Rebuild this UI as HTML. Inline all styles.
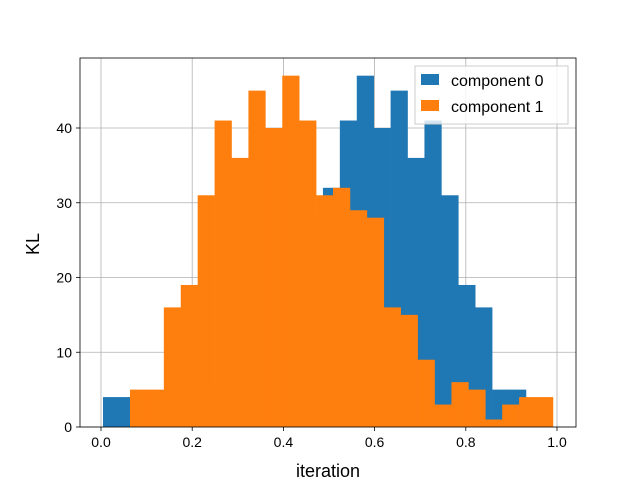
<!DOCTYPE html>
<html><head><meta charset="utf-8"><style>
body{margin:0;background:#fff;}
svg{display:block;font-family:"Liberation Sans","DejaVu Sans",sans-serif;}
</style></head><body>
<svg id="chart" width="640" height="480">
<rect width="640" height="480" fill="#fff"/>
<g id="grid"></g>
<g id="bars"></g>
<g id="axes"></g>
<g id="legend">
<rect x="415" y="66" width="153" height="58" fill="#fff" fill-opacity="0.8" stroke="#ccc"/>
<rect x="421" y="74" width="18" height="11" fill="#1f77b4"/>
<text x="451" y="86" font-size="16" fill="#000">component 0</text>
<rect x="421" y="100" width="18" height="11" fill="#ff7f0e"/>
<text x="451" y="112" font-size="16" fill="#000">component 1</text>
</g>
<text x="328" y="477" font-size="18" text-anchor="middle">iteration</text>
<text transform="translate(39,244) rotate(-90)" font-size="18" text-anchor="middle">KL</text>
</svg>
<script>
const blueStart = 0.0044;
const orangeStart = 0.0636;
const binWidth = 0.0371;
const blueCounts = [4,4,3,1,2,3,5,6,10,13,18,22,28,32,41,47,40,45,36,41,31,19,16,5,5];
const orangeCounts = [5,5,16,19,31,41,36,45,40,47,41,31,32,29,28,16,15,9,3,6,5,1,3,4,4];
const xTicks = [0,0.2,0.4,0.6,0.8,1.0];
const xTickLabels = ["0.0","0.2","0.4","0.6","0.8","1.0"];
const yTicks = [0,10,20,30,40];
const yTickLabels = ["0","10","20","30","40"];

const NS = "http://www.w3.org/2000/svg";
const L=80,R=576,T=58,B=427;
function xs(v){return 101+v*456;}
function ys(v){return 427-v*7.475;}
function mk(tag,attrs,parent){const e=document.createElementNS(NS,tag);for(const k in attrs)e.setAttribute(k,attrs[k]);parent.appendChild(e);return e;}
const grid=document.getElementById('grid'),bars=document.getElementById('bars'),axes=document.getElementById('axes');
xTicks.forEach((t,i)=>{
  const g=mk('line',{x1:xs(t),x2:xs(t),y1:T,y2:B,stroke:'#b0b0b0','stroke-width':0.8},grid);
  
  
});
yTicks.forEach((t,i)=>{
  const g=mk('line',{x1:L,x2:R,y1:ys(t),y2:ys(t),stroke:'#b0b0b0','stroke-width':0.8},grid);
  
  
});
function drawSeries(counts,start,color,name){
  counts.forEach((c,i)=>{
    const x0=xs(start+i*binWidth),x1=xs(start+(i+1)*binWidth);
    const r=mk('rect',{x:x0,y:ys(c),width:x1-x0+0.3,height:ys(0)-ys(c),fill:color},bars);
    
    
  });
}
drawSeries(blueCounts,blueStart,'#1f77b4','component-0');
drawSeries(orangeCounts,orangeStart,'#ff7f0e','component-1');
const frame=mk('rect',{x:L,y:T,width:R-L,height:B-T,fill:'none',stroke:'#000','stroke-width':0.8},axes);


xTicks.forEach((t,i)=>{
  mk('line',{x1:xs(t),x2:xs(t),y1:B,y2:B+4,stroke:'#000','stroke-width':0.8},axes);
  const tx=mk('text',{x:xs(t),y:B+20,'font-size':14,'text-anchor':'middle'},axes);
  tx.textContent=xTickLabels[i];
  
  
});
yTicks.forEach((t,i)=>{
  mk('line',{x1:L-4,x2:L,y1:ys(t),y2:ys(t),stroke:'#000','stroke-width':0.8},axes);
  const tx=mk('text',{x:L-8,y:ys(t)+5,'font-size':14,'text-anchor':'end'},axes);
  tx.textContent=yTickLabels[i];
  
  
});
</script>
</body></html>
